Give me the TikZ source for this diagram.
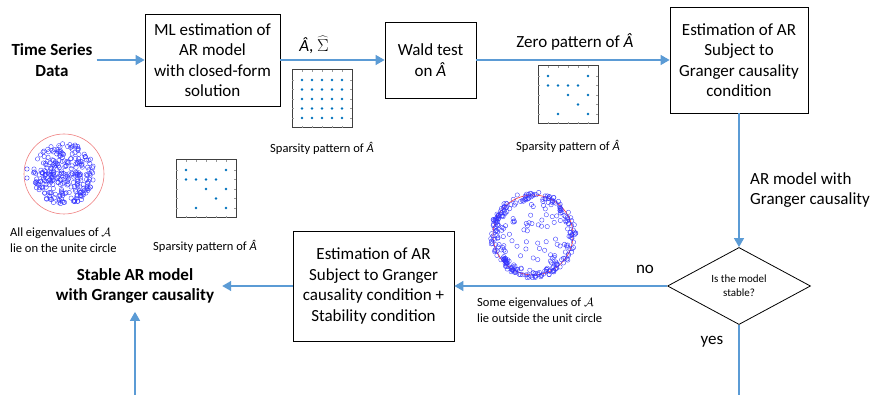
\documentclass[tikz,border=0pt]{standalone}
\usepackage{fontspec}
\setmainfont{Carlito}
\usetikzlibrary{arrows.meta,shapes.geometric}
\definecolor{arrblue}{HTML}{5B9BD5}
\definecolor{dotblue}{HTML}{0072BD}
\definecolor{eigred}{HTML}{F08080}
\newcommand{\bigf}{\fontsize{17}{20.5}\selectfont}
\newcommand{\smallf}{\fontsize{12.5}{16}\selectfont}
\newcommand{\tinyf}{\fontsize{11}{14}\selectfont}
\newcommand{\Ahat}{\textit{Â}}
\newcommand{\spmat}[3]{%
  \begin{scope}[shift={(#1,#2)}]
    \draw[black!75,line width=1pt] (0,0) rectangle (60,58);
    \foreach \k in {0,...,4}{
      \draw[black!40,line width=0.3pt] (10+10*\k,0) -- ++(0,2);
      \draw[black!40,line width=0.3pt] (10+10*\k,58) -- ++(0,-2);
      \draw[black!40,line width=0.3pt] (0,10+9.5*\k) -- ++(2,0);
      \draw[black!40,line width=0.3pt] (60,10+9.5*\k) -- ++(-2,0);
    }
    \foreach \c/\r in {#3}{
      \fill[dotblue] (10+10*\c,10+9.5*\r) circle (1.3pt);
    }
  \end{scope}}
\tikzset{
  box/.style={draw, line width=0.8pt, align=center, inner sep=0pt, font=\bigf},
  arr/.style={draw=arrblue, line width=1.3pt, -{Triangle[length=9pt,width=10pt]}},
  ln/.style={draw=arrblue, line width=1.3pt},
  lbl/.style={inner sep=0pt, font=\bigf},
  slbl/.style={inner sep=0pt, font=\smallf, align=left},
  eig/.style={draw=blue!80, line width=0.35pt},
}
\begin{document}
\begin{tikzpicture}[x=1pt,y=-1pt]
\useasboundingbox (0,0) rectangle (872,395);
\fill[white] (0,0) rectangle (872,395);

% main boxes
\node[box, minimum width=135pt, minimum height=92pt] (b1) at (212.5,60)
  {ML estimation of\\AR model\\with closed-form\\solution};
\node[box, minimum width=91pt, minimum height=76pt] (b2) at (430.5,60)
  {Wald test\\on \Ahat};
\node[box, minimum width=138pt, minimum height=106pt] (b3) at (739,60)
  {Estimation of AR\\Subject to\\Granger causality\\condition};
\node[box, minimum width=161pt, minimum height=110pt] (b4) at (373.5,286)
  {Estimation of AR\\Subject to Granger\\causality condition +\\Stability condition};
\node[draw, line width=0.8pt, diamond, minimum width=143pt, minimum height=60pt,
      inner sep=0pt, align=center, font=\tinyf] (dia) at (739,286)
  {Is the model\\stable?};

% end texts
\node[inner xsep=4pt, inner ysep=0pt, align=center, font=\bigf\bfseries] (ts) at (52,60)
  {Time Series\\Data};
\node[inner xsep=8pt, inner ysep=8pt, align=center, font=\bigf\bfseries] (st) at (135,286)
  {Stable AR model\\with Granger causality};

\coordinate (bot1) at (135,395);
\coordinate (bot2) at (739,395);

% connectors
\draw[arr] (ts.east) -- (b1.west);
\draw[arr] (b1.east) -- (b2.west);
\draw[arr] (b2.east) -- (b3.west);
\draw[arr] (b3.south) -- (dia.north);
\draw[arr] (dia.west) -- (b4.east);
\draw[arr] (b4.west) -- (st.east);
\draw[arr] (bot1) -- (st.south);
\draw[ln] (dia.south) -- (bot2);

% connector labels
\node[lbl] (l1) at (314,45) {\Ahat, $\widehat{\Sigma}$};
\node[lbl] (l2) at (575,42) {Zero pattern of \Ahat};
\node[lbl, anchor=west, align=left] (l3) at (750,190) {AR model with\\Granger causality};
\node[lbl] (l4) at (645,269) {no};
\node[lbl] (l5) at (712,342) {yes};

% sparsity patterns
\spmat{292}{70}{0/0,1/0,2/0,3/0,4/0,0/1,1/1,2/1,3/1,4/1,0/2,1/2,2/2,3/2,4/2,0/3,1/3,2/3,3/3,4/3,0/4,1/4,2/4,3/4,4/4}
\spmat{538}{66}{0/0,4/0,0/1,1/1,2/1,3/1,2/2,4/2,3/3,1/4,4/4}
\spmat{176}{160}{0/0,4/0,0/1,1/1,2/1,3/1,2/2,4/2,3/3,1/4,4/4}
\node[slbl] (s1) at (322,148) {Sparsity pattern of \Ahat};
\node[slbl] (s2) at (568,146) {Sparsity pattern of \Ahat};
\node[slbl] (s3) at (205,246) {Sparsity pattern of \Ahat};

% eigenvalue plot 1
\pgfmathsetseed{7}
\draw[eigred, line width=0.6pt] (64,174) circle (40pt);
\foreach \i in {1,...,260}{
  \pgfmathsetmacro{\ang}{360*rnd}
  \pgfmathsetmacro{\rad}{31*sqrt(rnd)}
  \draw[eig] (64,174) ++(\ang:\rad) circle (2.2pt);
}
\foreach \i in {1,...,25}{
  \pgfmathsetmacro{\dx}{30*rand}
  \pgfmathsetmacro{\dy}{1.5*rand}
  \draw[eig] (64,174) ++(\dx,\dy) circle (2.2pt);
}
\draw[eig] (27,169) circle (2.2pt);
\draw[eig] (27,178) circle (2.2pt);
\node[slbl, anchor=west] (e1) at (10,240) {All eigenvalues of $\mathcal{A}$\\lie on the unite circle};

% eigenvalue plot 2
\draw[red!80, line width=0.6pt] (533,235) circle (40pt);
\foreach \i in {1,...,260}{
  \pgfmathsetmacro{\ang}{360*rnd}
  \pgfmathsetmacro{\rad}{39+4*rand}
  \draw[eig] (533,235) ++(\ang:\rad) circle (2.2pt);
}
\foreach \i in {1,...,55}{
  \pgfmathsetmacro{\ang}{360*rnd}
  \pgfmathsetmacro{\rad}{34*sqrt(rnd)}
  \draw[eig] (533,235) ++(\ang:\rad) circle (2.2pt);
}
\node[slbl, anchor=west] (e2) at (477,310) {Some eigenvalues of $\mathcal{A}$\\lie outside the unit circle};
\end{tikzpicture}
\end{document}
